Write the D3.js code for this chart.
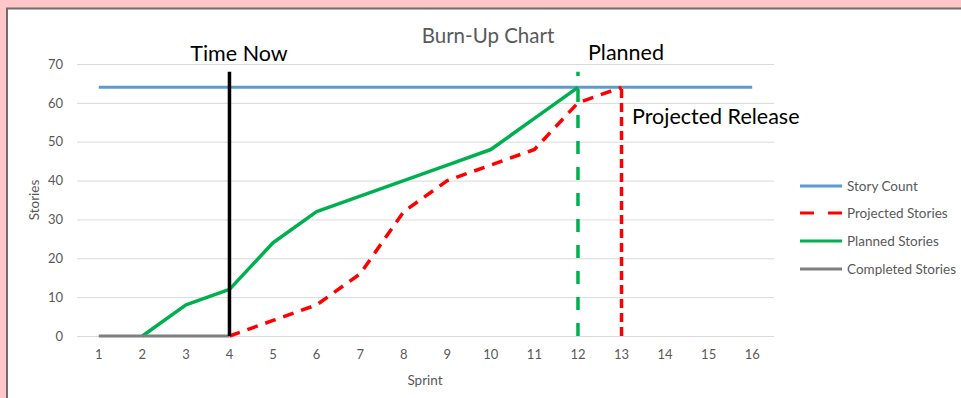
<!DOCTYPE html>
<html>
<head>
<meta charset="utf-8">
<script src="https://cdn.jsdelivr.net/npm/d3@7"></script>
<style>
  html, body { margin: 0; padding: 0; background: #FFC7C7; }
  svg { display: block; }
  text { font-family: Lato, "Open Sans", sans-serif; }
</style>
</head>
<body>
<svg id="chart" width="961" height="398"></svg>
<script>
// ---- data ----
const sprints = [1, 2, 3, 4, 5, 6, 7, 8, 9, 10, 11, 12, 13, 14, 15, 16];
const storyCount = [64, 64, 64, 64, 64, 64, 64, 64, 64, 64, 64, 64, 64, 64, 64, 64];
const projectedStories = [null, null, null, 0, 4, 8, 16, 32, 40, 44, 48, 60, 64, null, null, null];
const plannedStories = [null, 0, 8, 12, 24, 32, 36, 40, 44, 48, 56, 64, null, null, null, null];
const completedStories = [0, 0, 0, 0, null, null, null, null, null, null, null, null, null, null, null, null];
const yTicks = [0, 10, 20, 30, 40, 50, 60, 70];
const seriesNames = ["Story Count", "Projected Stories", "Planned Stories", "Completed Stories"];
const markerNames = ["Time Now", "Planned", "Projected Release"];
const markerSprints = [4, 12, 13];
const markerTops = [68, 68, 64];

// ---- layout ----
const svg = d3.select("#chart");
const W = 961, H = 398;
const plot = { left: 77, right: 774, top: 64, bottom: 336 };

// white chart panel with border
svg.append("rect").attr("x", 7).attr("y", 8.5).attr("width", W).attr("height", H)
  .attr("fill", "#fff").attr("stroke", "#6d6d6d").attr("stroke-width", 2);

const x = d3.scaleBand().domain(sprints).range([plot.left, plot.right]);
const xc = s => x(s) + x.bandwidth() / 2;
const y = d3.scaleLinear().domain([0, 70]).range([plot.bottom, plot.top]);

// gridlines + y axis
const yAxis = d3.axisLeft(y).tickValues(yTicks).tickSize(-(plot.right - plot.left)).tickPadding(14);
const gy = svg.append("g").attr("transform", `translate(${plot.left},0)`).call(yAxis);
gy.select(".domain").remove();
gy.selectAll(".tick line").attr("stroke", "#D9D9D9").attr("stroke-width", 1);
gy.selectAll(".tick text").attr("fill", "#595959").attr("font-size", 13);

// x axis
const xAxis = d3.axisBottom(x).tickSize(0).tickPadding(14);
const gx = svg.append("g").attr("transform", `translate(0,${plot.bottom})`).call(xAxis);
gx.select(".domain").remove();
gx.selectAll(".tick text").attr("fill", "#595959").attr("font-size", 13);

// axis titles
svg.append("text").attr("x", 425).attr("y", 385).attr("text-anchor", "middle")
  .attr("fill", "#595959").attr("font-size", 13.5).text("Sprint");
svg.append("text").attr("transform", "translate(39,200) rotate(-90)").attr("text-anchor", "middle")
  .attr("fill", "#595959").attr("font-size", 13.5).text("Stories");

// chart title
svg.append("text").attr("x", 488).attr("y", 43).attr("text-anchor", "middle")
  .attr("fill", "#595959").attr("font-size", 20.5).text("Burn-Up Chart");

// ---- series ----
const line = d3.line().defined(d => d.v != null).x(d => xc(d.s)).y(d => y(d.v));
const pts = arr => sprints.map((s, i) => ({ s, v: arr[i] }));

const seriesDefs = [
  { data: storyCount, color: "#5B9BD5", width: 3, dash: null },
  { data: projectedStories, color: "#FF0000", width: 3.5, dash: "11,8" },
  { data: plannedStories, color: "#00B050", width: 3.5, dash: null },
  { data: completedStories, color: "#7F7F7F", width: 3, dash: null }
];

seriesDefs.forEach(d => {
  svg.append("path").datum(pts(d.data)).attr("d", line)
    .attr("fill", "none").attr("stroke", d.color).attr("stroke-width", d.width)
    .attr("stroke-linejoin", "round")
    .attr("stroke-dasharray", d.dash);
});

// ---- marker lines ----
const markerStyles = [
  { color: "#000000", dash: null, width: 3.5 },
  { color: "#00B050", dash: "13,13", width: 3.5 },
  { color: "#FF0000", dash: "9,5", width: 3.5 }
];
markerSprints.forEach((s, i) => {
  const st = markerStyles[i];
  svg.append("line")
    .attr("x1", xc(s)).attr("x2", xc(s))
    .attr("y1", y(0)).attr("y2", y(markerTops[i]))
    .attr("stroke", st.color).attr("stroke-width", st.width)
    .attr("stroke-dasharray", st.dash);
});

// marker labels
svg.append("text").attr("x", 239).attr("y", 61).attr("text-anchor", "middle")
  .attr("fill", "#000").attr("font-size", 21.5).text(markerNames[0]);
svg.append("text").attr("x", 626).attr("y", 60).attr("text-anchor", "middle")
  .attr("fill", "#000").attr("font-size", 21.5).text(markerNames[1]);
svg.append("text").attr("x", 632).attr("y", 124).attr("text-anchor", "start")
  .attr("fill", "#000").attr("font-size", 21.5).text(markerNames[2]);

// ---- legend ----
const legendY = [186, 213, 241, 269];
const lg = svg.append("g");
seriesNames.forEach((name, i) => {
  const d = seriesDefs[i];
  lg.append("line").attr("x1", 800).attr("x2", 842).attr("y1", legendY[i]).attr("y2", legendY[i])
    .attr("stroke", d.color).attr("stroke-width", 3)
    .attr("stroke-dasharray", i === 1 ? "14,14" : null);
  lg.append("text").attr("x", 847).attr("y", legendY[i] + 4.5).attr("fill", "#595959")
    .attr("font-size", 13.5).text(name);
});
</script>
</body>
</html>
